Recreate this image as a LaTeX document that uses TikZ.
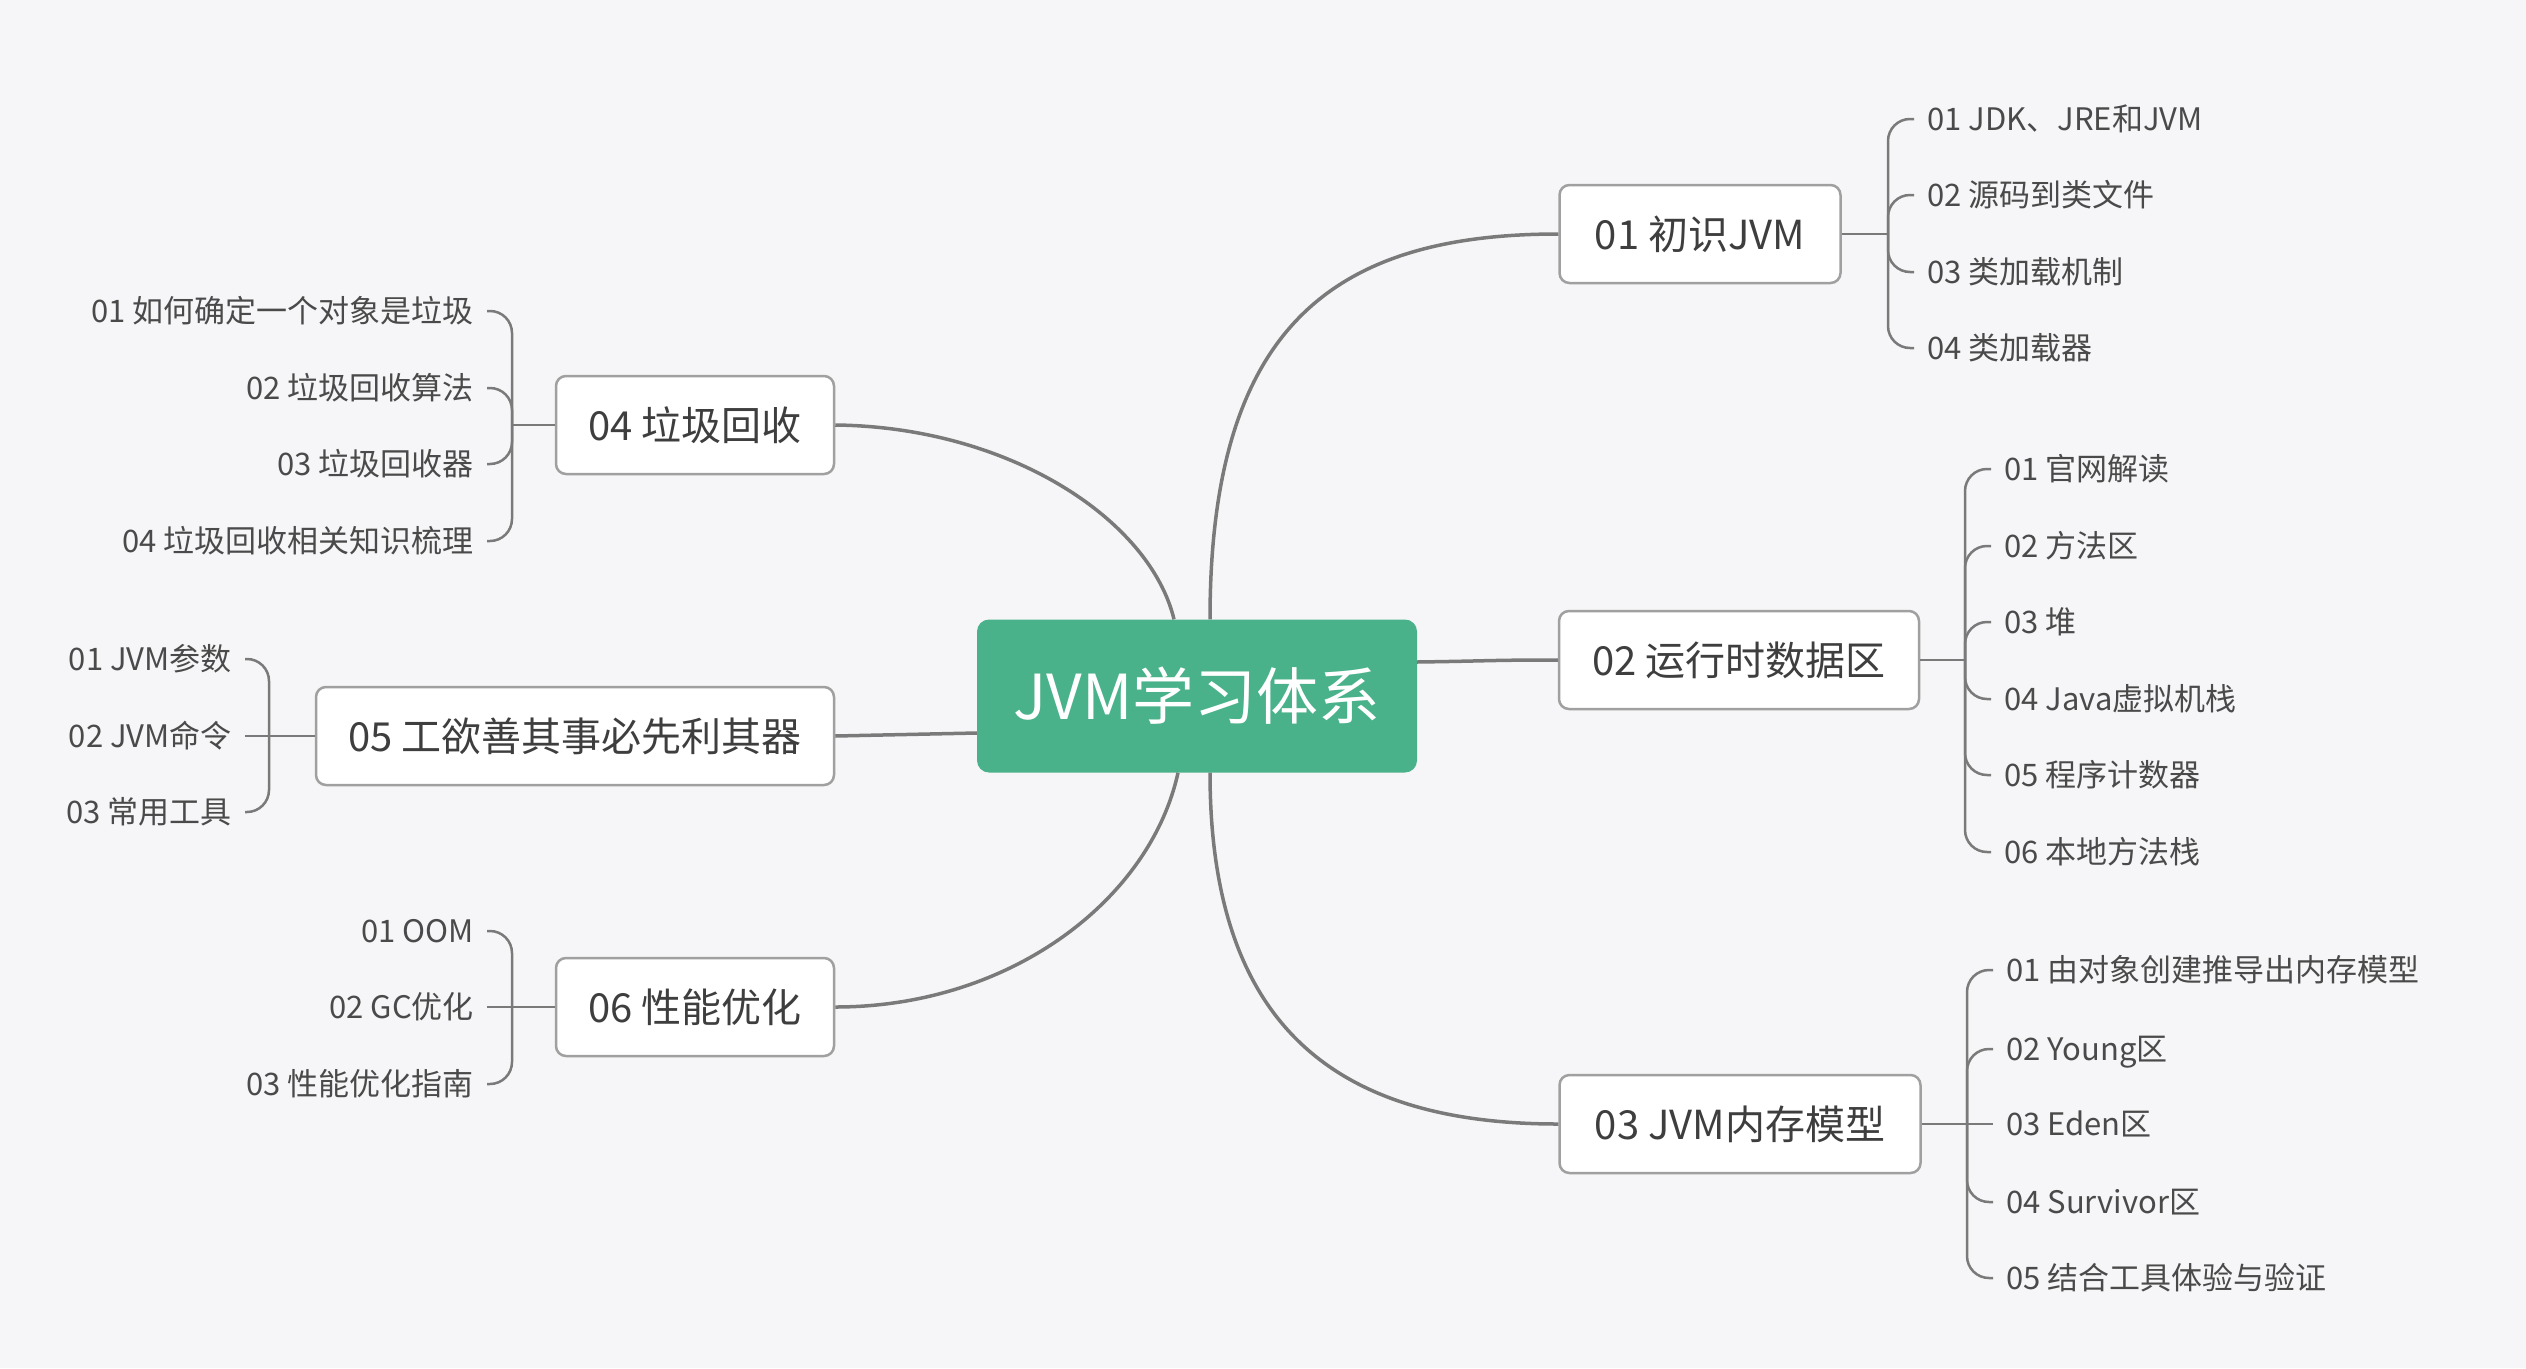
\documentclass[tikz,border=0pt]{standalone}
\usepackage{fontspec}
\newfontfamily\cjk{Noto Sans CJK SC}
\definecolor{bg}{HTML}{F6F6F8}
\definecolor{mainGreen}{HTML}{4AB28A}
\definecolor{boxline}{HTML}{A0A0A0}
\definecolor{linegray}{HTML}{7A7A7A}
\definecolor{textdark}{HTML}{3E3E3E}
\definecolor{textgray}{HTML}{4A4A4A}
\begin{document}
\begin{tikzpicture}[x=1pt,y=-1pt,
  centernode/.style={fill=mainGreen, rounded corners=12pt, minimum width=440pt, minimum height=153pt,
    text=white, font=\cjk\fontsize{62}{70}\selectfont, text height=54pt, text depth=8pt, inner sep=0pt},
  topic/.style={draw=boxline, line width=2.5pt, fill=white, rounded corners=10pt, minimum height=98pt,
    inner xsep=10pt, inner ysep=0pt, text=textdark, font=\cjk\fontsize{40}{48}\selectfont, text height=35pt, text depth=5pt},
  rsub/.style={anchor=west, inner xsep=13pt, inner ysep=0pt, text=textgray,
    font=\cjk\fontsize{31}{36}\selectfont, text height=27pt, text depth=4pt},
  lsub/.style={rsub, anchor=east},
  conn/.style={draw=linegray, line width=3.5pt},
  br/.style={draw=linegray, line width=2.5pt, rounded corners=22pt},
]
\useasboundingbox[fill=bg] (0,0) rectangle (2526,1368);

% centre
\node[centernode] (c) at (1197,696) {JVM学习体系};

% main topics
\node[topic, minimum width=281pt] (n1) at (1700,234) {01 初识JVM};
\node[topic, minimum width=360pt] (n2) at (1739,660) {02 运行时数据区};
\node[topic, minimum width=361pt] (n3) at (1740,1124) {03 JVM内存模型};
\node[topic, minimum width=278pt] (n4) at (695,425) {04 垃圾回收};
\node[topic, minimum width=518pt] (n5) at (575,736) {05 工欲善其事必先利其器};
\node[topic, minimum width=278pt] (n6) at (695,1007) {06 性能优化};

% main connectors
\coordinate (cTR) at ([xshift=13pt]c.north);
\coordinate (cTL) at ([xshift=-23pt]c.north);
\coordinate (cBR) at ([xshift=13pt]c.south);
\coordinate (cBL) at ([xshift=-19pt]c.south);
\coordinate (cR) at ([yshift=34pt]c.east);
\coordinate (cL) at ([yshift=-37pt]c.west);
\draw[conn] (cTR) .. controls (1210,330) and (1330,234) .. (n1.west);
\draw[conn] (cR) .. controls (1490,661) and (1490,660) .. (n2.west);
\draw[conn] (cBR) .. controls (1210,1030) and (1340,1124) .. (n3.west);
\draw[conn] (cTL) .. controls (1150,520) and (1010,427) .. (n4.east);
\draw[conn] (cL) -- (n5.east);
\draw[conn] (cBL) .. controls (1150,900) and (1010,1007) .. (n6.east);

% group 1
\coordinate (j1) at (1888,234);
\draw[br] (n1.east) -- (j1);
\foreach \n/\y/\t in {g1a/119/{01 JDK、JRE和JVM}, g1b/195/{02 源码到类文件}, g1c/272/{03 类加载机制}, g1d/348/{04 类加载器}}{
  \node[rsub] (\n) at (1914,\y) {\t};
  \draw[br] (j1) |- (\n.west);
}

% group 2
\coordinate (j2) at (1965,660);
\draw[br] (n2.east) -- (j2);
\foreach \n/\y/\t in {g2a/469/{01 官网解读}, g2b/546/{02 方法区}, g2c/622/{03 堆}, g2d/699/{04 Java虚拟机栈}, g2e/775/{05 程序计数器}, g2f/852/{06 本地方法栈}}{
  \node[rsub] (\n) at (1991,\y) {\t};
  \draw[br] (j2) |- (\n.west);
}

% group 3
\coordinate (j3) at (1967,1124);
\node[rsub] (g3c) at (1993,1124) {03 Eden区};
\draw[br] (n3.east) -- (g3c.west);
\foreach \n/\y/\t in {g3a/970/{01 由对象创建推导出内存模型}, g3b/1049/{02 Young区}, g3d/1202/{04 Survivor区}, g3e/1278/{05 结合工具体验与验证}}{
  \node[rsub] (\n) at (1993,\y) {\t};
  \draw[br] (j3) |- (\n.west);
}

% group 4
\coordinate (j4) at (512,425);
\draw[br] (n4.west) -- (j4);
\foreach \n/\y/\t in {g4a/311/{01 如何确定一个对象是垃圾}, g4b/388/{02 垃圾回收算法}, g4c/464/{03 垃圾回收器}, g4d/541/{04 垃圾回收相关知识梳理}}{
  \node[lsub] (\n) at (487,\y) {\t};
  \draw[br] (j4) |- (\n.east);
}

% group 5
\coordinate (j5) at (269,736);
\node[lsub] (g5b) at (245,736) {02 JVM命令};
\draw[br] (n5.west) -- (g5b.east);
\foreach \n/\y/\t in {g5a/659/{01 JVM参数}, g5c/812/{03 常用工具}}{
  \node[lsub] (\n) at (245,\y) {\t};
  \draw[br] (j5) |- (\n.east);
}

% group 6
\coordinate (j6) at (512,1007);
\node[lsub] (g6b) at (487,1007) {02 GC优化};
\draw[br] (n6.west) -- (g6b.east);
\foreach \n/\y/\t in {g6a/931/{01 OOM}, g6c/1084/{03 性能优化指南}}{
  \node[lsub] (\n) at (487,\y) {\t};
  \draw[br] (j6) |- (\n.east);
}
\end{tikzpicture}
\end{document}
